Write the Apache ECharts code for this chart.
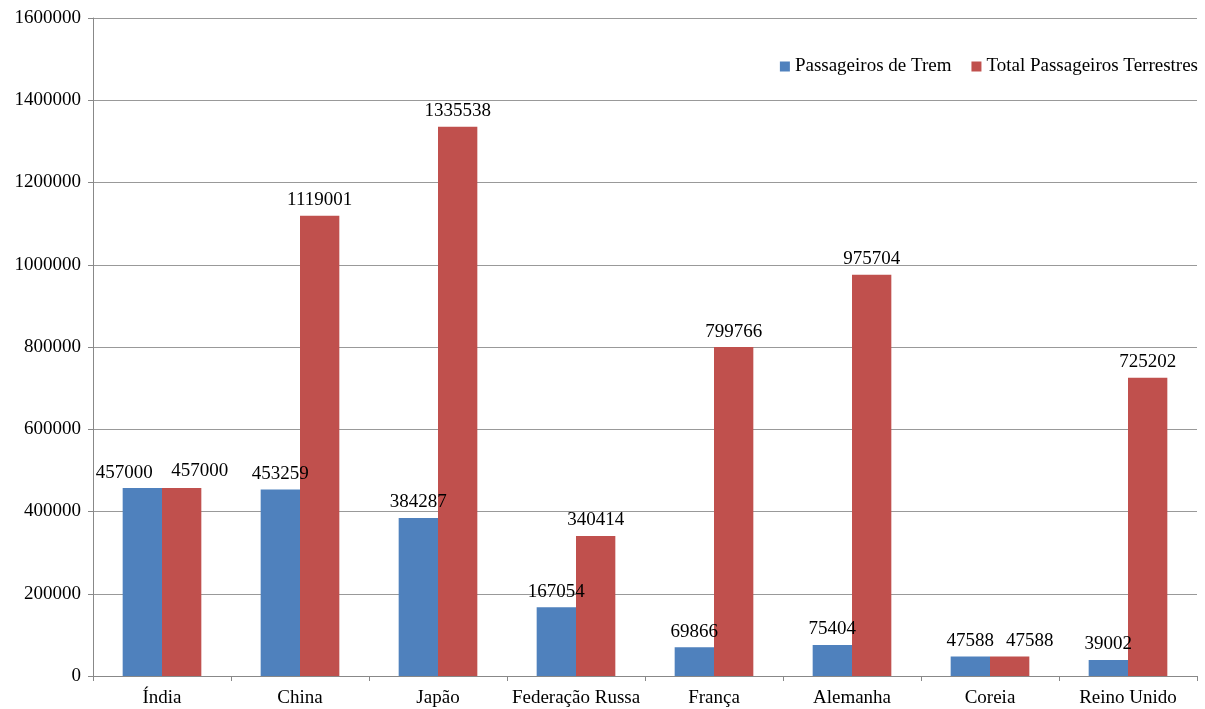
<!DOCTYPE html>
<html>
<head>
<meta charset="utf-8">
<script src="https://cdn.jsdelivr.net/npm/echarts@6/dist/echarts.min.js"></script>
<style>
  html, body { margin: 0; padding: 0; background: #fff; }
  #chart { width: 1205px; height: 709px; }
</style>
</head>
<body>
<div id="chart"></div>
<script>
// Passenger totals per country: rail vs. all land transport
const countries = ['Índia', 'China', 'Japão', 'Federação Russa', 'França', 'Alemanha', 'Coreia', 'Reino Unido'];
const trainPassengers = [457000, 453259, 384287, 167054, 69866, 75404, 47588, 39002];
const landPassengers = [457000, 1119001, 1335538, 340414, 799766, 975704, 47588, 725202];
const seriesNames = ['Passageiros de Trem', 'Total Passageiros Terrestres'];

const font = '"Liberation Serif", "DejaVu Serif", serif';
const fontSize = 19;
const chart = echarts.init(document.getElementById('chart'), null, { renderer: 'canvas' });

const labelStyle = {
  show: true,
  position: 'top',
  distance: 6,
  fontFamily: font,
  fontSize: fontSize,
  color: '#000'
};

// Nudge labels apart where equal-height neighbours would collide
function withLabelOffsets(values, offsets) {
  return values.map((v, i) => offsets[i]
    ? { value: v, label: { offset: offsets[i] } }
    : v);
}

const trainOffsets = { 0: [-18, 0] };
const landOffsets = { 0: [18, -2], 6: [20, 0] };

chart.setOption({
  animation: false,
  backgroundColor: '#fff',
  grid: { left: 93, right: 8, top: 18, bottom: 33, containLabel: false },
  legend: {
    data: seriesNames,
    top: 52,
    right: 2,
    itemWidth: 10,
    itemHeight: 10,
    itemGap: 20,
    icon: 'rect',
    textStyle: { fontFamily: font, fontSize: fontSize, color: '#000' }
  },
  xAxis: {
    type: 'category',
    data: countries,
    axisLine: { lineStyle: { color: '#888', width: 1 } },
    axisTick: { show: true, length: 5, lineStyle: { color: '#888' } },
    axisLabel: { interval: 0, fontFamily: font, fontSize: fontSize, color: '#000', margin: 13 }
  },
  yAxis: {
    type: 'value',
    min: 0,
    max: 1600000,
    interval: 200000,
    axisLine: { show: true, lineStyle: { color: '#888', width: 1 } },
    axisTick: { show: true, length: 5, lineStyle: { color: '#888' } },
    splitLine: { lineStyle: { color: '#999', width: 1 } },
    axisLabel: {
      fontFamily: font, fontSize: fontSize, color: '#000', margin: 12,
      formatter: v => String(v)
    }
  },
  series: [
    {
      name: seriesNames[0],
      type: 'bar',
      data: withLabelOffsets(trainPassengers, trainOffsets),
      itemStyle: { color: '#4F81BD' },
      barGap: '0%',
      barCategoryGap: '43%',
      label: labelStyle
    },
    {
      name: seriesNames[1],
      type: 'bar',
      data: withLabelOffsets(landPassengers, landOffsets),
      itemStyle: { color: '#C0504D' },
      barGap: '0%',
      barCategoryGap: '43%',
      label: labelStyle
    }
  ]
});
</script>
</body>
</html>
